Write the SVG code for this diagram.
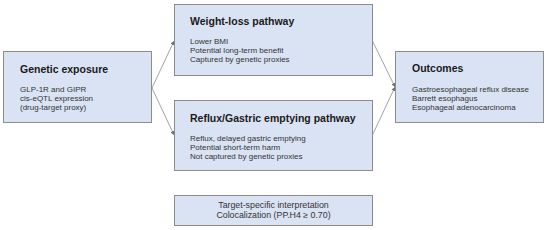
<svg xmlns="http://www.w3.org/2000/svg" width="550" height="230" viewBox="0 0 550 230">
<style>
.box{fill:#dae3f3;stroke:#8c8c8c;stroke-width:1}
.t{font-family:"Liberation Sans",Arial,sans-serif;font-weight:bold;font-size:10.5px;fill:#1a1a1a}
.b{font-family:"Liberation Sans",Arial,sans-serif;font-size:8px;fill:#333}
.m{font-family:"Liberation Sans",Arial,sans-serif;font-size:8.8px;fill:#333}
.c{fill:none;stroke:#8c8c8c;stroke-width:0.8}
</style>
<defs>
<marker id="ah" viewBox="0 0 6 6" refX="6" refY="3" markerWidth="4" markerHeight="4" orient="auto" markerUnits="userSpaceOnUse">
<path d="M0,0 L6,3 L0,6 z" fill="#6f6f6f"/>
</marker>
</defs>
<rect width="550" height="230" fill="#ffffff"/>
<g id="connectors">
<line class="c" x1="152" y1="88" x2="174" y2="41" marker-end="url(#ah)"/>
<line class="c" x1="152" y1="88" x2="174" y2="135" marker-end="url(#ah)"/>
<line class="c" x1="372" y1="40" x2="395" y2="87" marker-end="url(#ah)"/>
<line class="c" x1="372" y1="136" x2="395" y2="87" marker-end="url(#ah)"/>
</g>
<g id="genetic-exposure">
<rect class="box" x="3.5" y="51.5" width="148" height="71"/>
<text class="t" x="20" y="73">Genetic exposure</text>
<text class="b" x="20" y="92">GLP-1R and GIPR</text>
<text class="b" x="20" y="101">cis-eQTL expression</text>
<text class="b" x="20" y="110">(drug-target proxy)</text>
</g>
<g id="weight-loss">
<rect class="box" x="174.5" y="4.5" width="198" height="71"/>
<text class="t" x="190" y="25">Weight-loss pathway</text>
<text class="b" x="190" y="44">Lower BMI</text>
<text class="b" x="190" y="53">Potential long-term benefit</text>
<text class="b" x="190" y="62">Captured by genetic proxies</text>
</g>
<g id="reflux">
<rect class="box" x="174.5" y="100.5" width="198" height="70"/>
<text class="t" x="190" y="122">Reflux/Gastric emptying pathway</text>
<text class="b" x="190" y="141">Reflux, delayed gastric emptying</text>
<text class="b" x="190" y="150">Potential short-term harm</text>
<text class="b" x="190" y="159">Not captured by genetic proxies</text>
</g>
<g id="outcomes">
<rect class="box" x="395.5" y="51.5" width="148" height="71"/>
<text class="t" x="412" y="72">Outcomes</text>
<text class="b" x="412" y="92">Gastroesophageal reflux disease</text>
<text class="b" x="412" y="101">Barrett esophagus</text>
<text class="b" x="412" y="110">Esophageal adenocarcinoma</text>
</g>
<g id="interpretation">
<rect class="box" x="174.5" y="195.5" width="198" height="30"/>
<text class="m" x="273.5" y="207.5" text-anchor="middle">Target-specific interpretation</text>
<text class="m" x="273.5" y="217.5" text-anchor="middle">Colocalization (PP.H4 ≥ 0.70)</text>
</g>
</svg>
